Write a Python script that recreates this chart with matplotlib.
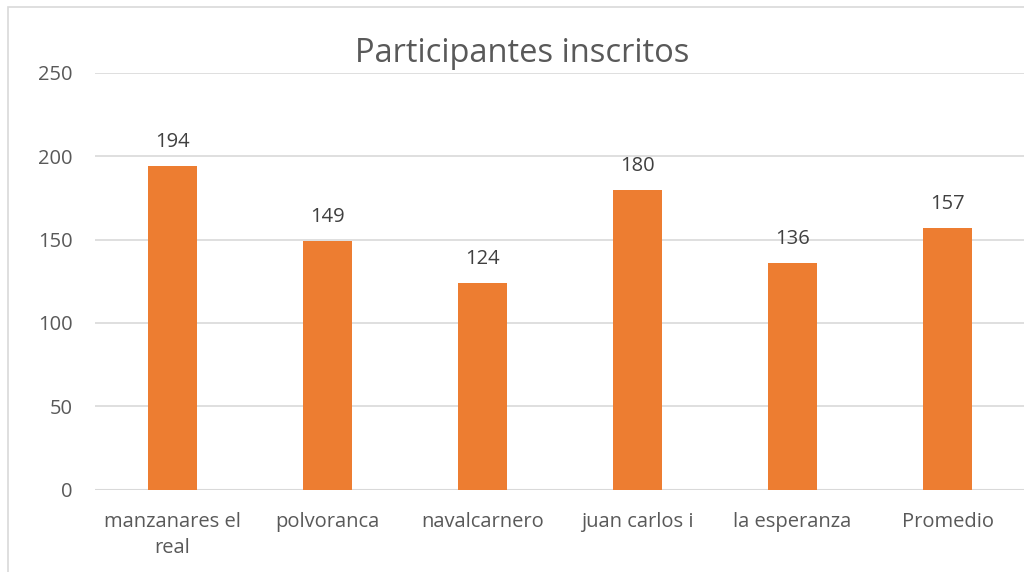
import matplotlib

matplotlib.use("Agg")
import matplotlib.pyplot as plt
from matplotlib.patches import Rectangle

categories = ["manzanares el\nreal", "polvoranca", "navalcarnero",
              "juan carlos i", "la esperanza", "Promedio"]
values = [194, 149, 124, 180, 136, 157]
yticks = [0, 50, 100, 150, 200, 250]

TEXT = "#595959"
BAR = "#ED7D31"
GRID = "#D9D9D9"

plt.rcParams["font.family"] = ["Open Sans", "DejaVu Sans"]

fig = plt.figure(figsize=(10.24, 5.72), dpi=100)
# chart frame (cut off at right/bottom like the screenshot)
fig.patches.append(Rectangle((8 / 1024, -0.1), 1.2, 1.1 - 7 / 572,
                             transform=fig.transFigure, fill=False,
                             edgecolor=GRID, lw=1.2))

ax = fig.add_axes([95 / 1024, 1 - 489.5 / 572, 930 / 1024, (489.5 - 73) / 572])
x = range(len(categories))
bars = ax.bar(x, values, width=0.316, color=BAR, zorder=3)
for b, v in zip(bars, values):
    ax.annotate(str(v), (b.get_x() + b.get_width() / 2, v), xytext=(0, 10),
                textcoords="offset points", ha="center", va="bottom",
                fontsize=14.5, color="#404040")

ax.set_xlim(-0.5, len(categories) - 0.5)
ax.set_ylim(0, 250)
ax.set_yticks(yticks)
ax.set_xticks(list(x))
ax.set_xticklabels(categories, fontsize=14.5, color=TEXT, linespacing=1.45)
ax.tick_params(axis="y", labelsize=14.5, labelcolor=TEXT, length=0, pad=16)
ax.tick_params(axis="x", length=0, pad=16)
ax.grid(axis="y", color=GRID, lw=1.2, zorder=0)
for s in ax.spines.values():
    s.set_visible(False)
ax.axhline(0, color=GRID, lw=1.5, zorder=2)

fig.text(522 / 1024, 1 - 54 / 572, "Participantes inscritos", ha="center",
         va="center", fontsize=23.5, color=TEXT)

fig.savefig("out.png", dpi=100)
